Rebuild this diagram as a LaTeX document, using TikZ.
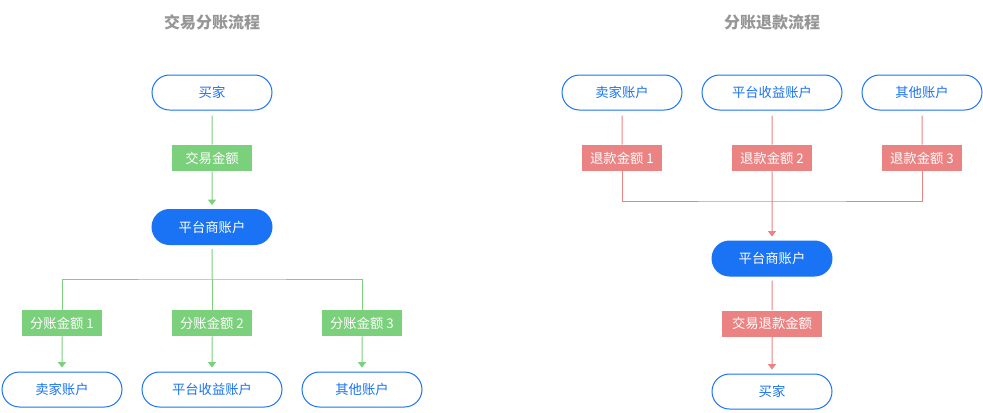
\documentclass[tikz,border=0pt]{standalone}
\usepackage{fontspec}
\setmainfont{Noto Sans CJK SC}
\usepackage{tikz}
\usetikzlibrary{arrows,arrows.meta,calc,positioning,shapes}
\tikzset{
  acct/.style = {rounded rectangle, inner sep=0pt, minimum height=26.25pt, minimum width=90pt,
  line width=0.75pt, text centered, font=\fontsize{10pt}{12pt}\selectfont},
  acct_n/.style = {acct, draw=my_blue, fill=white, text=my_blue},
  acct_f/.style = {acct, draw=my_blue, fill=my_blue, text=white},
  amt/.style = {rectangle, inner sep=0pt, minimum height=19.5pt, minimum width=60pt, text=white,
  font=\fontsize{10pt}{12pt}\selectfont},
  title/.style = {text=my_gray, font=\fontsize{12pt}{14pt}\selectfont\bfseries}
}
\definecolor{my_blue}{RGB}{26, 115, 245}
\definecolor{my_green}{RGB}{123, 208, 123}
\definecolor{my_red}{RGB}{235, 131, 131}
\definecolor{my_gray}{RGB}{150, 150, 150}

\begin{document}
\begin{tikzpicture}[x=0.75pt, y=-0.75pt, >={Triangle[width=6pt,length=4pt]},
        	gline/.style={draw=my_green, line width=0.75pt},
	        rline/.style={draw=my_red, line width=0.75pt},
	        green/.style={amt, fill=my_green},
	        red/.style={amt, fill=my_red}]
    \useasboundingbox (0,0) rectangle (983,412);
    % split flow
    \node [title] (t1) at (212,22) {交易分账流程};
    \node [acct_n] (buyer) at (212,92.5) {买家};
    \node [green] (trade) at (212,158) {交易金额};
    \node [acct_f] (plat) at (212,227) {平台商账户};
    \coordinate (split) at (212,279);
    \node [green] (sa1) at (62,323) {分账金额 1};
    \node [green] (sa2) at (212,323) {分账金额 2};
    \node [green] (sa3) at (362,323) {分账金额 3};
    \node [acct_n] (seller) at (62,389.5) {卖家账户};
    \node [acct_n, minimum width=105pt] (platinc) at (212,389.5) {平台收益账户};
    \node [acct_n] (other) at (362,389.5) {其他账户};
    \draw [gline, shorten <=3.75pt] (buyer) -- (trade);
    \draw [gline, ->, shorten >=3pt] (trade) -- (plat);
    \draw [gline, shorten <=3pt] (plat) -- (split);
    \draw [gline] (sa1) |- (split) -| (sa3);
    \draw [gline] (split) -- (sa2);
    \draw [gline, ->, shorten >=3pt] (sa1) -- (seller);
    \draw [gline, ->, shorten >=3pt] (sa2) -- (platinc);
    \draw [gline, ->, shorten >=3pt] (sa3) -- (other);
    % refund flow
    \node [title] (t2) at (772,22) {分账退款流程};
    \node [acct_n] (seller_r) at (622,92.5) {卖家账户};
    \node [acct_n, minimum width=105pt] (platinc_r) at (772,92.5) {平台收益账户};
    \node [acct_n] (other_r) at (922,92.5) {其他账户};
    \node [red] (rf1) at (622,158) {退款金额 1};
    \node [red] (rf2) at (772,158) {退款金额 2};
    \node [red] (rf3) at (922,158) {退款金额 3};
    \coordinate (merge) at (772,201);
    \node [acct_f] (plat_r) at (772,258.5) {平台商账户};
    \node [red, minimum width=75pt] (refund) at (772,323.5) {交易退款金额};
    \node [acct_n] (buyer_r) at (772,391.5) {买家};
    \draw [rline, shorten <=3.75pt] (seller_r) -- (rf1);
    \draw [rline, shorten <=3.75pt] (platinc_r) -- (rf2);
    \draw [rline, shorten <=3.75pt] (other_r) -- (rf3);
    \draw [rline] (rf1) |- (merge) -| (rf3);
    \draw [rline, ->, shorten >=3pt] (rf2) -- (plat_r);
    \draw [rline, shorten <=3pt] (plat_r) -- (refund);
    \draw [rline, ->, shorten >=3pt] (refund) -- (buyer_r);
\end{tikzpicture}
\end{document}
